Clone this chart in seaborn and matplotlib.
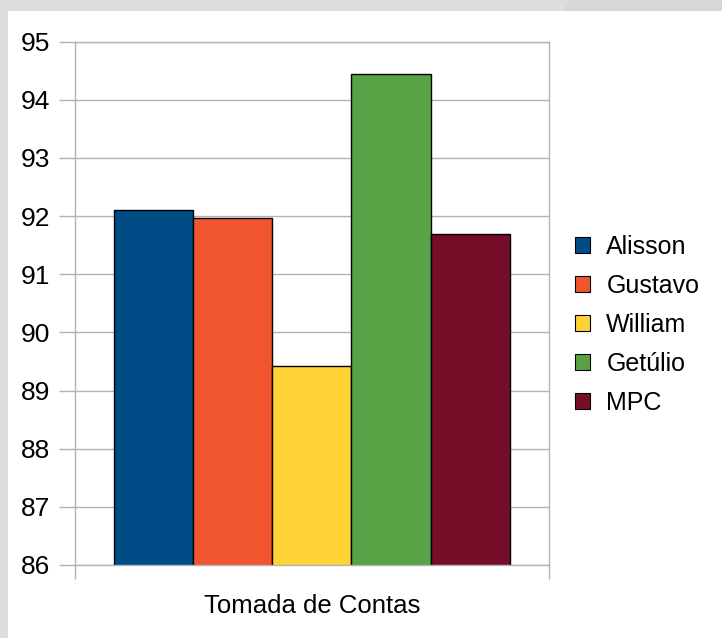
import pandas as pd
import seaborn as sns
import matplotlib.pyplot as plt
from matplotlib.patches import Rectangle, Polygon, Patch

# Dados do gráfico
categoria = ['Tomada de Contas']
nomes = ['Alisson', 'Gustavo', 'William', 'Getúlio', 'MPC']
valores = [92.10, 91.96, 89.42, 94.44, 91.69]
cores = ['#004c87', '#f1552f', '#ffd235', '#58a345', '#760d29']
y_ticks = [86, 87, 88, 89, 90, 91, 92, 93, 94, 95]

df = pd.DataFrame({'Categoria': categoria * len(nomes), 'Nome': nomes, 'Valor': valores})

sns.set_style("white")
plt.rcParams['font.family'] = ['Liberation Sans', 'DejaVu Sans']
plt.rcParams['text.color'] = 'black'
plt.rcParams['xtick.labelcolor'] = 'black'
plt.rcParams['ytick.labelcolor'] = 'black'

fig = plt.figure(figsize=(7.22, 6.38), dpi=100)
fig.patch.set_facecolor('#dcdddc')
W, H = 722, 638
# painel branco e faixa superior
fig.patches.append(Rectangle((8 / W, 0), 1, (H - 11) / H, transform=fig.transFigure,
                             facecolor='white', edgecolor='none', zorder=-2))
fig.patches.append(Polygon([(563 / W, (H - 11) / H), (570 / W, 1), (1, 1), (1, (H - 11) / H)],
                           closed=True, transform=fig.transFigure,
                           facecolor='#d6d8d6', edgecolor='none', zorder=-2))

ax = fig.add_axes([75 / W, (H - 565) / H, 473.5 / W, 523.5 / H])
ax.set_zorder(2)
ax.set_facecolor('white')

sns.barplot(data=df, x='Categoria', y='Valor', hue='Nome', hue_order=nomes,
            palette=cores, width=0.837, edgecolor='black', linewidth=1,
            saturation=1, ax=ax)
if ax.get_legend() is not None:
    ax.get_legend().remove()

ax.set_ylim(86, 95)
ax.set_xlim(-0.5, 0.5)
ax.set_yticks(y_ticks)
ax.set_yticklabels([str(v) for v in y_ticks])
ax.grid(axis='y', color='#b3b3b3', linewidth=1)
ax.set_axisbelow(True)
for s in ax.spines.values():
    s.set_color('#b3b3b3')
    s.set_linewidth(1)

ax.tick_params(axis='y', direction='out', length=11.5, width=1, color='#b3b3b3',
               labelsize=19, pad=6.5, left=True, labelcolor='black')
ax.set_xticks([0])
ax.set_xticklabels(categoria)
ax.tick_params(axis='x', which='major', length=0, labelsize=18.5, pad=21, labelcolor='black')
ax.set_xticks([-0.5, 0.5], minor=True)
ax.tick_params(axis='x', which='minor', direction='out', length=10, width=1,
               color='#b3b3b3', bottom=True)
ax.set_xlabel('')
ax.set_ylabel('')

handles = [Patch(facecolor=c, edgecolor='black', linewidth=0.8) for c in cores]
fig.legend(handles, nomes, loc='center left', bbox_to_anchor=(575 / W, (H - 325) / H),
           frameon=False, fontsize=18, handlelength=0.6, handleheight=0.6,
           handletextpad=0.65, labelspacing=0.6, borderpad=0, borderaxespad=0,
           labelcolor='black')

fig.savefig('out.png', dpi=100, facecolor=fig.get_facecolor())
